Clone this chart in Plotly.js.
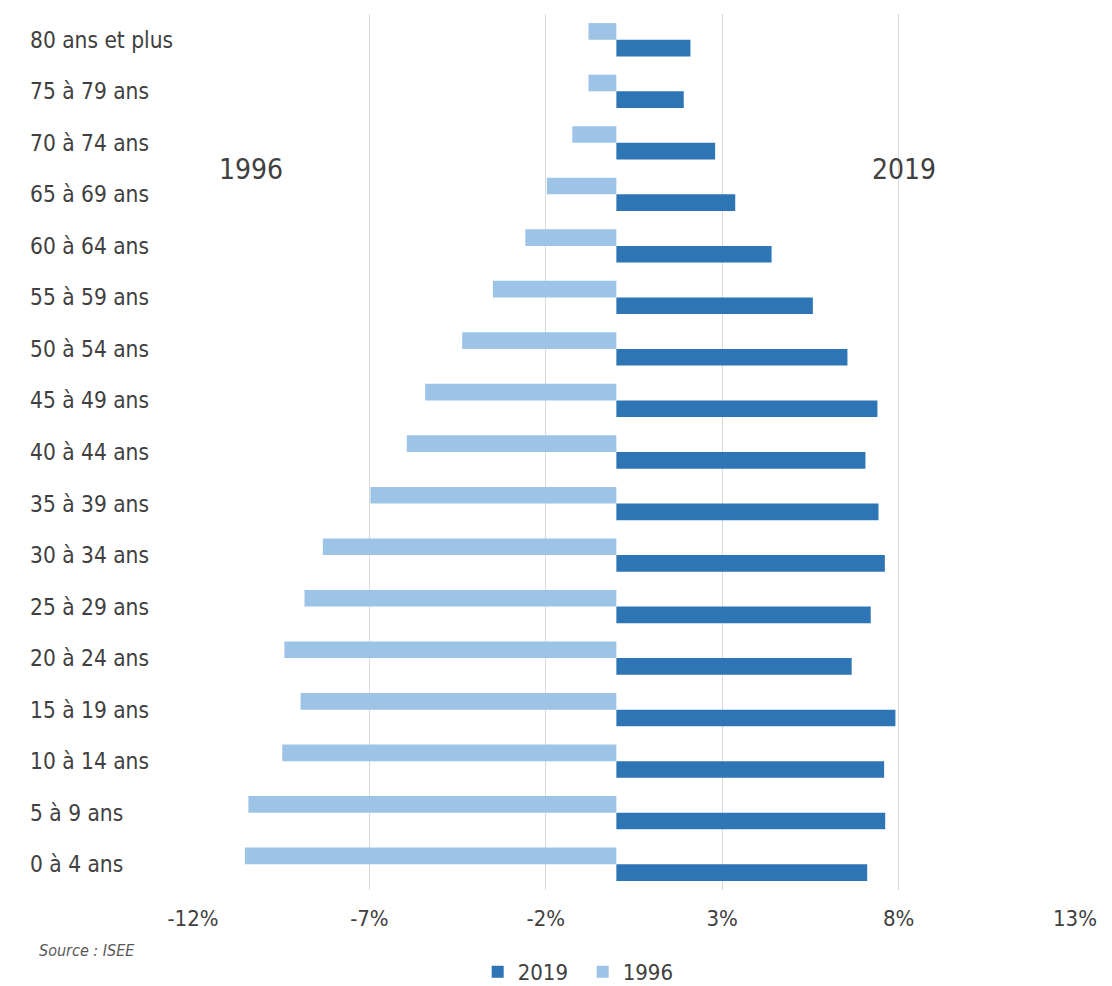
<!DOCTYPE html>
<html>
<head>
<meta charset="utf-8">
<script src="https://cdn.plot.ly/plotly-3.0.1.min.js"></script>
<style>
html,body{margin:0;padding:0;background:#fff;}
#chart{width:1112px;height:986px;}
</style>
</head>
<body>
<div id="chart"></div>
<script>
// Age groups, bottom to top
const categories = ["0 à 4 ans","5 à 9 ans","10 à 14 ans","15 à 19 ans","20 à 24 ans","25 à 29 ans","30 à 34 ans","35 à 39 ans","40 à 44 ans","45 à 49 ans","50 à 54 ans","55 à 59 ans","60 à 64 ans","65 à 69 ans","70 à 74 ans","75 à 79 ans","80 ans et plus"];
// Share of population (%), 2019 (right side)
const values2019 = [7.11, 7.62, 7.59, 7.91, 6.67, 7.21, 7.61, 7.43, 7.06, 7.40, 6.55, 5.57, 4.40, 3.37, 2.80, 1.91, 2.10];
// Share of population (%), 1996 (left side, negative)
const values1996 = [-10.53, -10.43, -9.47, -8.95, -9.41, -8.84, -8.32, -6.97, -5.94, -5.42, -4.37, -3.50, -2.58, -1.97, -1.25, -0.79, -0.79];
const tickVals = [-12, -7, -2, 3, 8, 13];
const tickText = ["-12%", "-7%", "-2%", "3%", "8%", "13%"];

const FONT = "'Liberation Sans Narrow', 'DejaVu Sans Condensed', 'Liberation Sans', sans-serif";
const TXT = "#404040";

const traces = [
  {type:"bar", orientation:"h", name:"2019", y:categories, x:values2019,
   marker:{color:"#2E75B6"}, hoverinfo:"x+y"},
  {type:"bar", orientation:"h", name:"1996", y:categories, x:values1996,
   marker:{color:"#9DC3E6"}, hoverinfo:"x+y"}
];

const annotations = categories.map(c => ({
  text: c, xref:"paper", yref:"y", x:-0.187, y:c, xanchor:"left", yanchor:"middle",
  showarrow:false, font:{family:FONT, size:22.5, color:TXT}
}));
annotations.push(
  {text:"1996", xref:"x", yref:"paper", x:-10.36, y:0.823, xanchor:"center", yanchor:"middle",
   showarrow:false, font:{family:FONT, size:28, color:TXT}},
  {text:"2019", xref:"x", yref:"paper", x:8.16, y:0.823, xanchor:"center", yanchor:"middle",
   showarrow:false, font:{family:FONT, size:28, color:TXT}},
  {text:"<i>Source : ISEE</i>", xref:"paper", yref:"paper", x:-0.177, y:-0.0685, xanchor:"left", yanchor:"middle",
   showarrow:false, font:{family:FONT, size:16, color:"#595959"}}
);

const layout = {
  width:1112, height:986,
  margin:{l:193, r:37, t:14, b:96, autoexpand:false},
  paper_bgcolor:"#fff", plot_bgcolor:"#fff",
  barmode:"group", bargap:0.354, bargroupgap:0,
  showlegend:true,
  legend:{orientation:"h", xref:"container", yref:"container", x:0.524, xanchor:"center",
          y:0.0142, yanchor:"middle", entrywidth:60,
          font:{family:FONT, size:22, color:TXT}, traceorder:"normal", itemwidth:30},
  xaxis:{range:[-12,13], tickvals:tickVals, ticktext:tickText, showgrid:true,
         gridcolor:"#d9d9d9", gridwidth:1, zeroline:false, showline:false, ticks:"",
         ticklabelstandoff:13, tickfont:{family:FONT, size:22, color:TXT}, fixedrange:true},
  yaxis:{type:"category", categoryorder:"array", categoryarray:categories,
         range:[-0.5,16.5], showticklabels:false, showgrid:false, zeroline:false,
         showline:false, ticks:"", fixedrange:true},
  annotations: annotations
};

Plotly.newPlot("chart", traces, layout, {displayModeBar:false, staticPlot:true});
</script>
</body>
</html>
